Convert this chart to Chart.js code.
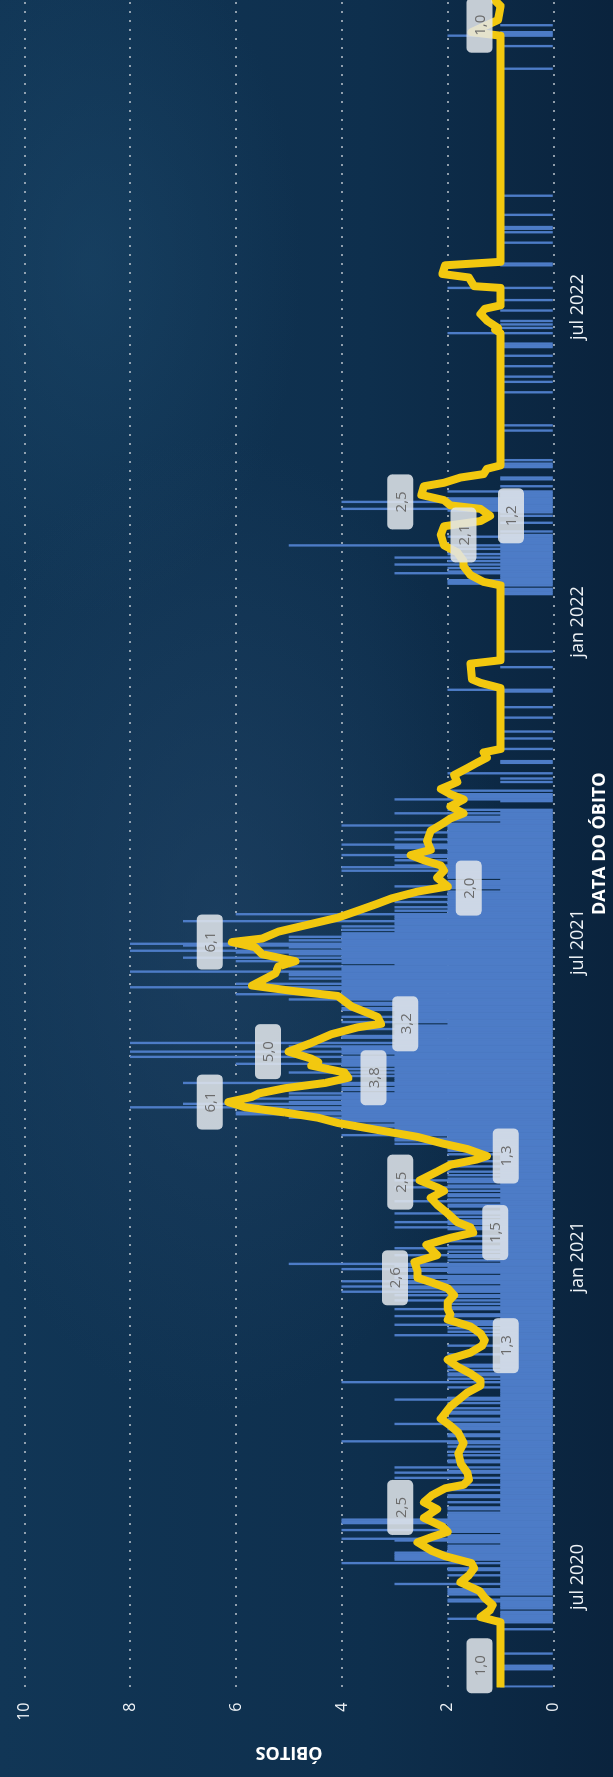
<!DOCTYPE html>
<html lang="pt-BR">
<head>
<meta charset="UTF-8">
<title>Óbitos por data</title>
<script src="https://cdn.jsdelivr.net/npm/chart.js@4.4.0/dist/chart.umd.min.js"></script>
<style>
    html, body { margin: 0; padding: 0; }
    body {
        width: 613px;
        height: 1777px;
        overflow: hidden;
        position: relative;
        background:
            radial-gradient(ellipse 420px 700px at 35% 52%, rgba(35, 70, 105, 0.55), transparent 70%),
            radial-gradient(ellipse 300px 500px at 15% 15%, rgba(30, 75, 110, 0.45), transparent 70%),
            linear-gradient(90deg, #113656 0%, #0e2f4d 60%, #0a233d 100%);
    }
    /* the chart is drawn lying down and turned a quarter */
    #wrap {
        position: absolute;
        left: 0;
        top: 0;
        width: 1777px;
        height: 613px;
        transform-origin: 0 0;
        transform: translateY(1777px) rotate(-90deg);
    }
</style>
</head>
<body>
<div id="wrap"><canvas id="chart" width="1777" height="613"></canvas></div>
<script>
// day 0 of the series
const startDate = '2020-04-29';

// daily deaths, one value per day from startDate
const obitosDia = [
    1,0,0,0,0,0,0,0,0,0,
    1,1,1,0,0,0,0,0,0,1,
    0,0,0,0,0,0,0,0,0,0,
    0,0,0,1,0,0,0,1,1,2,
    1,1,1,1,0,1,1,1,1,2,
    2,1,0,2,2,2,2,1,1,3,
    1,1,1,1,2,1,1,2,2,1,
    1,4,1,3,3,3,3,3,2,2,
    2,2,1,2,3,4,2,2,1,2,
    4,2,2,2,4,4,4,2,2,2,
    2,1,2,2,1,1,2,1,1,2,
    2,1,1,2,1,1,2,1,1,1,
    3,1,1,3,2,1,3,1,1,2,
    2,1,1,2,1,2,1,1,2,1,
    2,4,1,1,2,2,1,1,2,2,
    2,3,1,2,2,1,1,2,2,1,
    2,1,1,2,1,3,2,1,1,1,
    1,1,2,1,1,4,1,2,1,2,
    2,1,2,1,2,2,1,1,1,1,
    1,2,1,1,1,1,2,1,1,1,
    1,1,3,1,2,1,2,1,3,2,
    2,1,1,3,2,1,1,3,2,1,
    2,1,3,1,2,3,1,4,2,3,
    4,1,3,4,2,3,3,1,2,3,
    4,2,3,5,1,2,1,2,3,1,
    2,1,3,2,1,1,2,1,1,2,
    1,1,1,2,3,1,2,3,2,1,
    2,1,3,2,1,1,2,2,1,3,
    2,1,2,2,1,2,1,3,2,1,
    2,3,2,1,2,1,2,1,1,2,
    1,1,2,1,1,1,2,1,2,2,
    2,2,3,2,3,3,2,4,3,3,
    3,3,4,4,3,4,4,5,4,6,
    6,4,5,8,4,7,5,4,6,5,
    4,5,3,4,4,3,4,7,3,3,
    3,4,3,5,3,4,3,4,6,4,
    4,4,8,3,4,8,4,4,5,3,
    8,3,3,4,4,3,3,3,4,3,
    3,2,4,3,3,4,3,3,3,4,
    4,3,4,4,3,5,4,4,6,4,
    4,5,8,4,6,4,4,5,4,5,
    5,8,4,4,5,3,4,6,4,7,
    4,5,6,8,4,5,7,8,4,5,
    4,5,4,4,3,4,3,4,3,3,
    7,3,3,3,6,2,3,2,3,2,
    2,3,2,2,3,2,2,2,1,2,
    3,2,2,2,1,2,2,2,2,4,
    2,4,3,2,2,3,2,3,4,2,
    2,2,3,3,4,2,2,3,2,2,
    2,3,2,2,2,4,2,1,2,2,
    2,1,3,1,2,0,0,0,0,1,
    3,2,2,2,0,2,0,0,0,0,
    1,0,1,0,0,2,0,0,0,0,
    0,1,1,0,0,0,0,0,0,1,
    0,0,0,0,0,1,0,0,0,1,
    0,0,0,0,0,0,0,1,0,0,
    0,0,0,1,0,0,0,0,0,0,
    0,0,1,2,0,0,0,0,0,0,
    0,0,0,0,0,0,1,0,0,0,
    0,0,0,0,0,1,0,0,0,0,
    0,0,0,0,0,0,0,0,0,0,
    0,0,0,0,0,0,0,0,0,0,
    0,0,0,0,0,0,0,0,1,1,
    1,1,0,1,2,2,2,1,1,1,
    3,2,1,2,1,3,1,2,1,3,
    1,2,1,1,2,1,5,1,1,1,
    1,2,1,0,1,0,0,0,0,1,
    0,0,0,1,0,1,2,4,2,2,
    2,4,2,2,1,1,1,2,0,0,
    1,0,0,0,1,1,0,0,0,0,
    0,1,1,1,0,1,0,0,0,0,
    0,0,0,0,0,0,0,0,0,0,
    0,0,1,0,0,1,0,0,0,0,
    0,0,0,0,0,0,0,0,0,0,
    0,0,0,0,1,0,0,0,0,0,
    1,0,0,1,0,0,0,0,0,1,
    0,0,0,0,0,1,0,0,0,0,
    1,1,1,0,0,0,0,0,2,0,
    0,1,0,1,0,1,0,0,0,0,
    0,1,0,0,0,0,0,1,0,0,
    0,0,0,0,2,0,0,0,0,0,
    0,0,0,0,0,0,0,1,1,0,
    0,0,0,0,0,0,0,0,0,0,
    1,0,0,0,0,0,1,0,1,1,
    0,0,0,0,0,0,1,0,0,0,
    0,0,0,0,0,0,0,1,0,0,
    0,0,0,0,0,0,0,0,0,0,
    0,0,0,0,0,0,0,0,0,0,
    0,0,0,0,0,0,0,0,0,0,
    0,0,0,0,0,0,0,0,0,0,
    0,0,0,0,0,0,0,0,0,0,
    0,0,0,0,0,0,0,0,0,0,
    0,0,0,0,0,0,0,0,0,0,
    1,0,0,0,0,0,0,0,0,0,
    0,0,0,1,0,0,0,0,0,2,
    1,1,0,0,0,1,0,0,0,0,
    0,0,0,0,0,0,0,0,0,0
];

// moving average line, read at its turning points
const mediaDias = [
    0,37,40,44,47,51,55,60,64,68,
    71,75,78,83,86,89,92,97,102,106,
    110,114,116,119,123,128,134,140,146,150,
    154,161,169,173,176,180,184,188,192,196,
    199,203,207,211,214,217,221,225,229,232,
    235,239,244,248,254,258,261,264,267,272,
    277,281,285,287,291,296,300,303,305,309,
    312,316,320,324,327,330,333,336,339,341,
    344,347,350,353,357,359,361,365,370,375,
    379,381,385,391,397,400,403,406,410,414,
    417,421,425,428,430,434,438,442,446,450,
    453,457,460,465,469,472,475,478,481,486,
    492,496,499,502,506,510,513,516,520,524,
    528,531,534,537,539,574,577,579,588,590,
    633,635,639,644,647,652,656,662,667,670,
    673,677,679,682,685,690,692,695,697,700,
    702,778,780,781,785,789,792,794,804,805,
    810,812,817,819,949,951,958,966,969
];
const mediaValores = [
    1.0,1.0,1.38,1.2,1.15,1.3,1.4,1.76,1.6,1.5,
    1.55,2.05,2.3,2.57,2.3,2.0,2.1,2.45,2.2,2.45,
    2.3,2.05,1.7,1.6,1.63,1.75,1.8,1.7,1.8,1.95,
    2.13,1.95,1.63,1.38,1.38,1.57,1.82,2.0,1.57,1.35,
    1.3,1.38,1.57,2.0,1.95,2.0,2.0,1.88,2.0,2.27,
    2.57,2.57,2.63,2.2,2.4,1.95,1.52,1.57,1.82,2.0,
    2.2,2.32,2.07,2.2,2.53,2.2,1.95,1.45,1.26,1.63,
    2.07,2.57,3.33,4.08,4.45,5.07,5.83,6.15,5.7,5.57,
    5.07,4.32,3.88,3.95,4.58,4.45,4.58,5.01,4.58,4.2,
    3.7,3.26,3.33,3.82,4.08,4.96,5.7,5.51,5.26,5.2,
    4.88,5.51,5.64,6.08,5.51,5.2,4.64,4.08,3.7,3.33,
    3.07,2.57,2.0,2.2,2.07,2.13,2.45,2.7,2.32,2.39,
    2.32,2.1,1.95,1.7,1.95,1.7,1.95,2.13,1.82,1.88,
    1.63,1.45,1.26,1.32,1.0,1.0,1.38,1.54,1.57,1.0,
    1.0,1.32,1.57,1.7,1.7,1.82,2.07,2.13,2.07,1.38,
    1.2,1.38,1.95,2.07,2.5,2.45,2.07,1.76,1.32,1.26,
    1.0,1.0,1.1,1.05,1.25,1.38,1.3,1.0,1.0,1.5,
    1.6,2.1,2.05,1.0,1.0,1.55,1.05,1.0,1.1
];

// data labels on the average line
const rotuloDias = [12, 103, 196, 235, 261, 290, 305, 336, 350, 365, 381, 428, 459, 662, 673, 681, 955];
const rotuloValores = [1.0, 2.5, 1.3, 2.6, 1.5, 2.5, 1.3, 6.1, 3.8, 5.0, 3.2, 6.1, 2.0, 2.1, 1.2, 2.5, 1.0];
const rotuloLado = ['acima','acima','abaixo','acima','abaixo','acima','abaixo','acima','abaixo','acima','abaixo','acima','abaixo','abaixo','abaixo','acima','acima'];

// date axis ticks
const tickDatas = ['2020-07-01', '2021-01-01', '2021-07-01', '2022-01-01', '2022-07-01'];
const tickLabels = ['jul 2020', 'jan 2021', 'jul 2021', 'jan 2022', 'jul 2022'];

const diaDe = d => Math.round((Date.parse(d) - Date.parse(startDate)) / 86400000);
const tickDias = tickDatas.map(diaDe);

const barras = [];
obitosDia.forEach((v, i) => { if (v > 0) barras.push({ x: i, y: v }); });
const media = mediaDias.map((d, i) => ({ x: d, y: mediaValores[i] }));

const fonte = '"Open Sans", "Noto Sans", sans-serif';

const rotulosPlugin = {
    id: 'rotulos',
    afterDatasetsDraw(chart) {
        const { ctx, scales: { x, y } } = chart;
        const w = 55, h = 26, gap = 8;
        ctx.save();
        ctx.font = '15px ' + fonte;
        ctx.textAlign = 'center';
        ctx.textBaseline = 'middle';
        rotuloDias.forEach((d, i) => {
            const px = x.getPixelForValue(d);
            const py = y.getPixelForValue(rotuloValores[i]);
            const top = rotuloLado[i] === 'acima' ? py - gap - h : py + gap;
            ctx.fillStyle = 'rgba(226, 230, 235, 0.86)';
            ctx.beginPath();
            ctx.roundRect(px - w / 2, top, w, h, 5);
            ctx.fill();
            ctx.fillStyle = '#6b6b6b';
            ctx.fillText(rotuloValores[i].toFixed(1).replace('.', ','), px, top + h / 2 + 1);
        });
        ctx.restore();
    }
};

new Chart(document.getElementById('chart'), {
    type: 'bar',
    data: {
        datasets: [
            {
                type: 'line',
                data: media,
                borderColor: '#f2c80f',
                borderWidth: 8,
                pointRadius: 0,
                tension: 0,
                borderJoinStyle: 'round',
                borderCapStyle: 'round',
                order: 1
            },
            {
                type: 'bar',
                data: barras,
                backgroundColor: '#4d7cc7',
                barThickness: 1.7,
                order: 2
            }
        ]
    },
    options: {
        responsive: false,
        animation: false,
        layout: { padding: { top: 22, left: 0, right: 0, bottom: 0 } },
        plugins: {
            legend: { display: false },
            tooltip: { enabled: false }
        },
        scales: {
            x: {
                type: 'linear',
                min: -0.5,
                max: 969.5,
                offset: false,
                grid: { display: false },
                border: { display: false },
                afterBuildTicks: axis => { axis.ticks = tickDias.map(v => ({ value: v })); },
                afterFit: axis => { axis.height = 59.5; },
                ticks: {
                    autoSkip: false,
                    maxRotation: 0,
                    padding: 6,
                    color: '#eef2f6',
                    font: { size: 18, family: fonte },
                    callback: (v, i) => tickLabels[i]
                },
                title: {
                    display: true,
                    text: 'DATA DO ÓBITO',
                    color: '#ffffff',
                    font: { size: 18, weight: 'bold', family: fonte },
                    padding: { top: 0, bottom: 2 }
                }
            },
            y: {
                min: 0,
                max: 10,
                afterFit: axis => { axis.width = 89.5; },
                ticks: {
                    stepSize: 2,
                    padding: 15,
                    color: '#eef2f6',
                    font: { size: 16, family: fonte }
                },
                grid: { color: 'rgba(200, 206, 213, 0.7)', lineWidth: 2, drawTicks: false },
                border: { display: false, dash: [2, 7] },
                title: {
                    display: true,
                    text: 'ÓBITOS',
                    color: '#ffffff',
                    font: { size: 18, weight: 'bold', family: fonte },
                    padding: { top: 14, bottom: 0 }
                }
            }
        }
    },
    plugins: [rotulosPlugin]
});
</script>
</body>
</html>
